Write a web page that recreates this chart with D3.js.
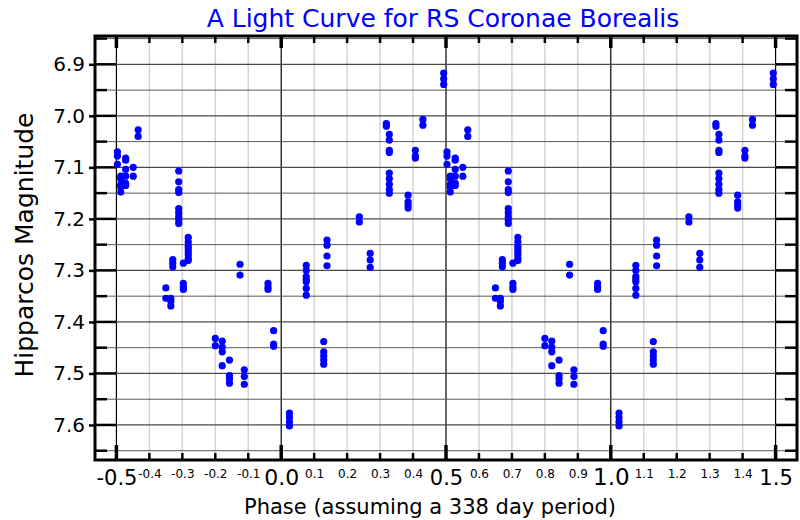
<!DOCTYPE html>
<html>
<head>
<meta charset="utf-8">
<script src="https://cdn.jsdelivr.net/npm/d3@7"></script>
<style>
  html, body { margin: 0; padding: 0; background: #fff; }
  svg { display: block; font-family: "DejaVu Sans", sans-serif; }
</style>
</head>
<body>
<svg id="chart" width="800" height="520"></svg>
<script>
// Phase (base cycle, -0.5 .. 0.5) and Hipparcos magnitude of each observation
const phases = [
  -0.497, -0.497, -0.497,
  -0.487, -0.487, -0.487, -0.487, -0.487,
  -0.472, -0.472, -0.472, -0.472, -0.472, -0.472,
  -0.449, -0.449,
  -0.434, -0.434,
  -0.350, -0.350,
  -0.335, -0.335, -0.335,
  -0.329, -0.329, -0.329,
  -0.311, -0.311, -0.311, -0.311, -0.311, -0.311, -0.311, -0.311, -0.311,
  -0.297, -0.297, -0.297, -0.297,
  -0.282, -0.282, -0.282, -0.282, -0.282, -0.282, -0.282, -0.282,
  -0.200, -0.200,
  -0.179, -0.179, -0.179, -0.179,
  -0.157, -0.157, -0.157, -0.157,
  -0.125, -0.125,
  -0.112, -0.112, -0.112,
  -0.040, -0.040, -0.040,
  -0.023, -0.023, -0.023,
  0.025, 0.025, 0.025, 0.025,
  0.076, 0.076, 0.076, 0.076, 0.076, 0.076, 0.076,
  0.129, 0.129, 0.129, 0.129, 0.129,
  0.139, 0.139, 0.139, 0.139,
  0.237, 0.237,
  0.270, 0.270, 0.270,
  0.319, 0.319,
  0.328, 0.328, 0.328, 0.328, 0.328, 0.328, 0.328, 0.328, 0.328,
  0.385, 0.385, 0.385, 0.385,
  0.407, 0.407, 0.407,
  0.430, 0.430,
  0.493, 0.493, 0.493
];
const magnitudes = [
  7.070, 7.078, 7.094,
  7.117, 7.122, 7.133, 7.138, 7.148,
  7.082, 7.086, 7.104, 7.117, 7.131, 7.135,
  7.100, 7.117,
  7.027, 7.040,
  7.334, 7.354,
  7.354, 7.360, 7.369,
  7.279, 7.286, 7.293,
  7.107, 7.128, 7.143, 7.149, 7.180, 7.188, 7.196, 7.202, 7.209,
  7.286, 7.325, 7.332, 7.337,
  7.236, 7.245, 7.253, 7.258, 7.264, 7.270, 7.277, 7.281,
  7.432, 7.446,
  7.437, 7.449, 7.458, 7.485,
  7.474, 7.504, 7.511, 7.519,
  7.288, 7.309,
  7.493, 7.506, 7.521,
  7.325, 7.332, 7.337,
  7.417, 7.443, 7.447,
  7.577, 7.585, 7.594, 7.602,
  7.290, 7.300, 7.312, 7.317, 7.322, 7.335, 7.348,
  7.438, 7.458, 7.466, 7.474, 7.482,
  7.241, 7.251, 7.272, 7.291,
  7.196, 7.206,
  7.267, 7.280, 7.294,
  7.015, 7.020,
  7.036, 7.047, 7.067, 7.071, 7.111, 7.122, 7.133, 7.143, 7.150,
  7.154, 7.167, 7.173, 7.179,
  7.067, 7.078, 7.082,
  7.007, 7.018,
  6.917, 6.928, 6.939
];
// The light curve is drawn over two cycles
const cycleOffsets = [0, 1];

const xMajorTicks = [-0.5, 0.0, 0.5, 1.0, 1.5];
const xMinorTicks = [-0.4, -0.3, -0.2, -0.1, 0.1, 0.2, 0.3, 0.4, 0.6, 0.7, 0.8, 0.9, 1.1, 1.2, 1.3, 1.4];
const yMajorTicks = [6.9, 7.0, 7.1, 7.2, 7.3, 7.4, 7.5, 7.6];
const yMinorTicks = [6.85, 6.95, 7.05, 7.15, 7.25, 7.35, 7.45, 7.55, 7.65];

const titleText = "A Light Curve for RS Coronae Borealis";
const xLabel = "Phase (assuming a 338 day period)";
const yLabel = "Hipparcos Magnitude";

const svg = d3.select("#chart");
const L = 95, R = 797, T = 36, B = 460;

const x = d3.scaleLinear().domain([-0.565, 1.565]).range([L, R]);
const y = d3.scaleLinear().domain([6.845, 7.668]).range([T, B]);

svg.append("rect").attr("width", 800).attr("height", 520).attr("fill", "#fff");

// vertical grid
const vGrid = svg.append("g");
vGrid.selectAll("line.minor").data(xMinorTicks).join("line")
  .attr("x1", d => x(d)).attr("x2", d => x(d)).attr("y1", T).attr("y2", B)
  .attr("stroke", "#d4d4d4").attr("stroke-width", 1.5);
// horizontal grid
const hGrid = svg.append("g");
hGrid.selectAll("line.maj").data(yMajorTicks).join("line")
  .attr("x1", L).attr("x2", R).attr("y1", d => y(d)).attr("y2", d => y(d))
  .attr("stroke", "#4a4a4a").attr("stroke-width", 1.2);
hGrid.selectAll("line.min").data(yMinorTicks).join("line")
  .attr("x1", L).attr("x2", R).attr("y1", d => y(d)).attr("y2", d => y(d))
  .attr("stroke", "#5a5a5a").attr("stroke-width", 1);
vGrid.selectAll("line.major").data(xMajorTicks).join("line")
  .attr("x1", d => x(d)).attr("x2", d => x(d)).attr("y1", T).attr("y2", B)
  .attr("stroke", "#000").attr("stroke-width", 1.2);

// inner ticks
const tickG = svg.append("g").attr("stroke", "#000");
yMajorTicks.forEach(d => {
  tickG.append("line").attr("x1", L).attr("x2", L + 21).attr("y1", y(d)).attr("y2", y(d)).attr("stroke-width", 2.5);
  tickG.append("line").attr("x1", R).attr("x2", R - 21).attr("y1", y(d)).attr("y2", y(d)).attr("stroke-width", 2.5);
});
yMinorTicks.forEach(d => {
  tickG.append("line").attr("x1", L).attr("x2", L + 12).attr("y1", y(d)).attr("y2", y(d)).attr("stroke-width", 2.5);
  tickG.append("line").attr("x1", R).attr("x2", R - 12).attr("y1", y(d)).attr("y2", y(d)).attr("stroke-width", 2.5);
});
xMinorTicks.forEach(d => {
  tickG.append("line").attr("x1", x(d)).attr("x2", x(d)).attr("y1", T).attr("y2", T + 7).attr("stroke-width", 2.5);
  tickG.append("line").attr("x1", x(d)).attr("x2", x(d)).attr("y1", B).attr("y2", B - 7).attr("stroke-width", 2.5);
});
xMajorTicks.forEach(d => {
  tickG.append("line").attr("x1", x(d)).attr("x2", x(d)).attr("y1", T).attr("y2", T + 12).attr("stroke-width", 3.5);
  tickG.append("line").attr("x1", x(d)).attr("x2", x(d)).attr("y1", B).attr("y2", B - 15).attr("stroke-width", 3.5);
});

// points
const pts = [];
cycleOffsets.forEach(o => phases.forEach((p, i) => pts.push({ p: p + o, m: magnitudes[i] })));
svg.append("g").selectAll("circle").data(pts).join("circle")
  .attr("cx", d => x(d.p)).attr("cy", d => y(d.m)).attr("r", 3.6)
  .attr("fill", "#0000ff");

// frame
svg.append("rect").attr("x", L).attr("y", T).attr("width", R - L).attr("height", B - T)
  .attr("fill", "none").attr("stroke", "#000").attr("stroke-width", 3);

// Y axis labels
const yAxis = svg.append("g").attr("transform", `translate(${L},0)`)
  .call(d3.axisLeft(y).tickValues(yMajorTicks).tickFormat(d => d.toFixed(1))
    .tickSizeInner(6).tickSizeOuter(0).tickPadding(4));
yAxis.select(".domain").remove();
yAxis.selectAll(".tick line").attr("stroke", "#000").attr("stroke-width", 2.5);
yAxis.selectAll(".tick text").attr("font-size", 20).attr("font-family", "DejaVu Sans").attr("fill", "#000");

// X axis labels (major)
const xAxisMaj = svg.append("g").attr("transform", `translate(0,${B})`)
  .call(d3.axisBottom(x).tickValues(xMajorTicks).tickFormat(d => d.toFixed(1)).tickSize(0));
xAxisMaj.select(".domain").remove();
xAxisMaj.selectAll(".tick text").attr("font-size", d => (d === 1.0 ? 23 : d === 0 ? 22 : 21))
  .attr("font-family", "DejaVu Sans").attr("fill", "#000").attr("y", 25).attr("dy", 0);

// X axis labels (minor)
const xAxisMin = svg.append("g").attr("transform", `translate(0,${B})`)
  .call(d3.axisBottom(x).tickValues(xMinorTicks).tickFormat(d => d.toFixed(1)).tickSize(0));
xAxisMin.select(".domain").remove();
xAxisMin.selectAll(".tick text").attr("font-size", 12)
  .attr("font-family", "DejaVu Sans").attr("fill", "#000").attr("y", 18).attr("dy", 0);

// titles
svg.append("text").attr("x", 443).attr("y", 27).attr("text-anchor", "middle")
  .attr("font-size", 25).attr("fill", "#0000ff").text(titleText);
svg.append("text").attr("x", 430).attr("y", 514).attr("text-anchor", "middle")
  .attr("font-size", 21).attr("fill", "#000").text(xLabel);
svg.append("text").attr("transform", "translate(33,245) rotate(-90)").attr("text-anchor", "middle")
  .attr("font-size", 25).attr("fill", "#000").text(yLabel);
</script>
</body>
</html>
